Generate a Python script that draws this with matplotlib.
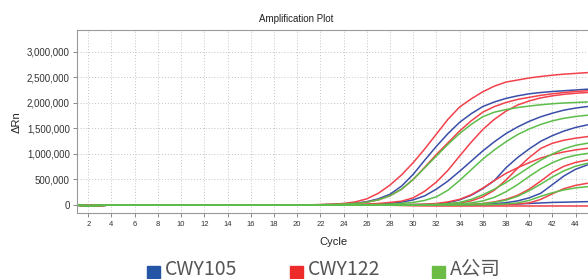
import matplotlib
matplotlib.use('Agg')
import matplotlib.pyplot as plt
import numpy as np
from matplotlib.patches import Rectangle
from matplotlib.ticker import FuncFormatter

# cycles 1..45, values in thousands of dRn
cycles = list(range(1, 46))
base = [-4, -14, -8, -3, -1, 0, 0, 0, 0, 0, 0, 0, 0, 0, 0, 0, 0, 0, 0]  # cycles 1-19

# cycles 20..45
blue_curves = [
    [0, 2, 5, 10, 18, 35, 65, 120, 210, 370, 600, 880, 1150, 1400, 1620, 1790, 1930, 2020, 2090, 2140, 2180, 2205, 2225, 2240, 2255, 2270],
    [0, 0, 0, 2, 3, 5, 10, 18, 30, 55, 100, 180, 310, 470, 660, 860, 1060, 1240, 1400, 1530, 1640, 1730, 1800, 1860, 1900, 1930],
    [0, 0, 0, 0, 0, 0, 0, 2, 3, 5, 7, 10, 20, 45, 100, 190, 320, 480, 730, 930, 1100, 1250, 1360, 1450, 1520, 1570],
    [0, 0, 0, 0, 0, 0, 0, 0, 0, 0, 0, 0, 2, 3, 4, 5, 10, 25, 45, 80, 140, 230, 400, 570, 700, 784],
    [0, 0, 0, 0, 0, 0, 0, 0, 0, 0, 0, 0, 0, 0, 0, 0, 5, 10, 15, 20, 30, 40, 50, 55, 60, 65],
]
red_curves = [
    [0, 3, 8, 15, 30, 60, 120, 230, 390, 590, 830, 1100, 1390, 1680, 1920, 2080, 2220, 2330, 2410, 2450, 2490, 2520, 2545, 2565, 2580, 2595],
    [0, 2, 5, 10, 18, 30, 55, 100, 180, 310, 500, 740, 990, 1220, 1450, 1650, 1820, 1930, 2010, 2070, 2110, 2150, 2180, 2205, 2225, 2240],
    [0, 0, 2, 3, 5, 10, 18, 30, 50, 75, 140, 270, 450, 680, 960, 1230, 1480, 1680, 1840, 1960, 2040, 2100, 2140, 2170, 2190, 2205],
    [0, 0, 0, 0, 0, 0, 2, 3, 5, 7, 10, 15, 30, 60, 110, 200, 330, 480, 620, 730, 830, 920, 990, 1040, 1080, 1110],
    [0, 0, 0, 0, 0, 0, 0, 0, 2, 3, 5, 7, 10, 20, 40, 80, 160, 290, 490, 720, 930, 1110, 1210, 1270, 1310, 1340],
    [0, 0, 0, 0, 0, 0, 0, 0, 0, 0, 0, 2, 3, 4, 5, 15, 30, 60, 110, 190, 310, 470, 640, 760, 835, 880],
    [0, 0, 0, 0, 0, 0, 0, 0, 0, 0, 0, 0, 0, 0, 2, 3, 4, 5, 10, 20, 40, 110, 220, 320, 385, 425],
    [0, 0, 0, 0, 0, 0, 0, 0, -5, -10, -15, -18, -20, -20, -20, -20, -20, -20, -20, -20, -20, -20, -20, -20, -20, -20],
]
green_curves = [
    [0, 2, 5, 10, 18, 30, 55, 100, 180, 310, 500, 730, 960, 1190, 1400, 1580, 1730, 1820, 1870, 1910, 1940, 1965, 1985, 2000, 2010, 2020],
    [0, 0, 0, 0, 2, 3, 5, 10, 18, 30, 50, 90, 160, 290, 480, 690, 900, 1080, 1240, 1380, 1490, 1580, 1650, 1700, 1735, 1760],
    [0, 0, 0, 0, 0, 0, 0, 0, 2, 3, 5, 7, 10, 25, 50, 110, 200, 310, 440, 590, 740, 880, 1000, 1100, 1170, 1210],
    [0, 0, 0, 0, 0, 0, 0, 0, 0, 2, 3, 5, 7, 10, 20, 40, 80, 150, 260, 400, 560, 710, 830, 920, 975, 1010],
    [0, 0, 0, 0, 0, 0, 0, 0, 0, 0, 0, 2, 3, 4, 5, 10, 25, 50, 95, 170, 280, 410, 550, 670, 760, 817],
    [0, 0, 0, 0, 0, 0, 0, 0, 0, 0, 0, 0, 0, 2, 3, 4, 5, 10, 20, 40, 90, 170, 240, 295, 335, 359],
]

legend_names = ['CWY105', 'CWY122', 'A公司']
line_colors = ['#3a4ea8', '#f2414b', '#5dbd4a']
legend_colors = ['#2456a5', '#ee2b2b', '#6cbd45']

fig = plt.figure(figsize=(5.88, 2.79), dpi=100)
ax = fig.add_axes([0.1304, 0.2366, 0.888, 0.6559])

for curves, col in zip([blue_curves, red_curves, green_curves], line_colors):
    for c in curves:
        ax.plot(cycles, np.array(base + c) * 1000, color=col, lw=1.1)

ax.set_xlim(1, 46)
ax.set_ylim(-157000, 3431000)
ax.set_xticks(range(2, 45, 2))
ax.set_yticks(range(0, 3000001, 500000))
ax.yaxis.set_major_formatter(FuncFormatter(lambda v, p: f'{int(v):,}'))
ax.grid(True, color='#c4c4c4', linestyle=(0, (1, 2)), lw=0.7)
ax.tick_params(axis='both', direction='out', length=3, width=0.6, color='#777777')
ax.tick_params(axis='y', labelsize=7, labelcolor='#333333', pad=2)
ax.tick_params(axis='x', labelsize=5.5, labelcolor='#333333', pad=3)
for lab in ax.get_xticklabels() + ax.get_yticklabels():
    lab.set_family('Liberation Sans')
for s in ['top', 'left', 'bottom']:
    ax.spines[s].set_color('#999999')
    ax.spines[s].set_linewidth(0.8)
ax.spines['right'].set_visible(False)

fig.text(296 / 588, 1 - 19 / 279, 'Amplification Plot', ha='center', va='center',
         fontsize=7, color='#222222', family='Liberation Sans')
fig.text(333 / 588, 1 - 242 / 279, 'Cycle', ha='center', va='center',
         fontsize=8, color='#222222', family='Liberation Sans')
fig.text(17 / 588, 1 - 122 / 279, 'ΔRn', ha='center', va='center', rotation=90,
         fontsize=8, color='#222222', family='Liberation Sans')

sq_x = [147, 290, 432]
for x, name, col in zip(sq_x, legend_names, legend_colors):
    fig.patches.append(Rectangle((x / 588, 1 / 279), 13 / 588, 12.5 / 279,
                                 transform=fig.transFigure, color=col, figure=fig))
    fig.text((x + 18) / 588, 1 - 275 / 279, name, ha='left', va='baseline', fontsize=14,
             color='#555555', family=['Noto Sans CJK SC', 'DejaVu Sans'])

fig.savefig('out.png', dpi=100)
